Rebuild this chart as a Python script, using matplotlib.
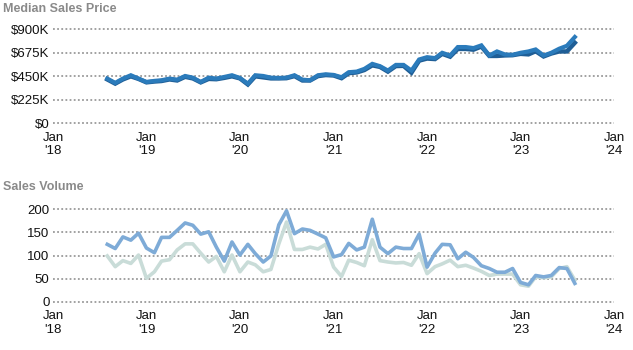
import matplotlib
matplotlib.use("Agg")
import matplotlib.pyplot as plt
import matplotlib.dates as mdates
import pandas as pd

plt.rcParams['font.family'] = ['Liberation Sans', 'DejaVu Sans']

# ---- data ----
months = pd.date_range("2018-08-01", "2023-08-01", freq="MS")

price_dark = [420, 380, 420, 450, 425, 392, 400, 405, 420, 410,
              445, 430, 392, 425, 422, 435, 450, 430, 372, 450,
              440, 430, 430, 432, 452, 410, 410, 452, 462, 458,
              432, 480, 487, 510, 555, 540, 495, 548, 550, 485,
              600, 620, 615, 665, 638, 712, 712, 705, 735, 645,
              645, 650, 652, 665, 660, 690, 640, 668, 688, 688,
              771]
price_light = [428, 387, 428, 460, 428, 396, 406, 412, 428, 418,
               453, 437, 396, 437, 428, 444, 460, 434, 380, 460,
               453, 437, 434, 437, 460, 418, 412, 460, 469, 463,
               441, 489, 495, 521, 569, 547, 505, 559, 559, 505,
               611, 633, 624, 675, 649, 730, 730, 720, 746, 649,
               688, 659, 656, 675, 688, 707, 649, 675, 714, 742,
               826]

vol_blue = [124, 115, 140, 133, 148, 116, 106, 139, 139, 154,
            170, 165, 146, 151, 118, 88, 129, 101, 124, 104,
            86, 99, 166, 196, 147, 157, 154, 146, 138, 97,
            102, 126, 112, 118, 178, 118, 104, 118, 115, 115,
            146, 75, 105, 124, 123, 93, 107, 96, 78, 72,
            64, 64, 72, 42, 37, 57, 54, 57, 74, 72,
            40]
vol_pale = [99, 76, 89, 83, 101, 51, 65, 88, 91, 112,
            125, 125, 105, 86, 98, 65, 101, 65, 86, 80,
            65, 70, 125, 172, 113, 113, 118, 114, 124, 75,
            55, 90, 85, 78, 134, 89, 86, 84, 85, 79,
            104, 61, 76, 82, 90, 76, 79, 73, 66, 57,
            60, 60, 60, 37, 34, 54, 52, 54, 72, 76,
            47]

x_ticks = pd.date_range("2018-01-01", "2024-01-01", freq="YS")
x_labels = ["Jan\n'18", "Jan\n'19", "Jan\n'20", "Jan\n'21", "Jan\n'22", "Jan\n'23", "Jan\n'24"]
price_ticks = [0, 225, 450, 675, 900]
price_labels = ["$0", "$225K", "$450K", "$675K", "$900K"]
vol_ticks = [0, 50, 100, 150, 200]
vol_labels = ["0", "50", "100", "150", "200"]

W, H = 633, 350
fig = plt.figure(figsize=(W / 100, H / 100), dpi=100)

left = 53 / W
width = (614 - 53) / W
ax1 = fig.add_axes([left, 1 - 123.3 / H, width, (123.3 - 29.3) / H])
ax2 = fig.add_axes([left, 1 - 302 / H, width, (302 - 209) / H])

grid_color = "#9a9a9a"

def style(ax, ticks, labels, ymax):
    ax.set_xlim(x_ticks[0], x_ticks[-1])
    ax.set_ylim(0, ymax)
    ax.set_yticks(ticks)
    ax.set_yticklabels(labels)
    ax.set_xticks(x_ticks)
    ax.set_xticklabels(x_labels, linespacing=1.2)
    for s in ax.spines.values():
        s.set_visible(False)
    ax.tick_params(axis='both', length=0, labelsize=9.5, colors="#111111")
    ax.tick_params(axis='y', pad=2.5)
    ax.tick_params(axis='x', pad=6)
    for t in ticks:
        ax.axhline(t, color=grid_color, linewidth=1.3, linestyle=(0, (1, 1.3)), zorder=0, clip_on=False)

ax1.plot(months, price_dark, color="#1f5e96", linewidth=3.2, solid_joinstyle='miter', zorder=3)
ax1.plot(months, price_light, color="#2b7bbb", linewidth=3.0, solid_joinstyle='miter', zorder=4)
style(ax1, price_ticks, price_labels, 900)

ax2.plot(months, vol_pale, color="#c9dcd8", linewidth=2.6, zorder=3)
ax2.plot(months, vol_blue, color="#7eabd7", linewidth=2.6, zorder=4)
style(ax2, vol_ticks, vol_labels, 200)

fig.text(3 / W, 1 - 9 / H, "Median Sales Price", fontsize=9, fontweight='bold',
         color="#8a8a8a", va='center', ha='left')
fig.text(3 / W, 1 - 187 / H, "Sales Volume", fontsize=9, fontweight='bold',
         color="#8a8a8a", va='center', ha='left')

fig.savefig("out.png", dpi=100)
